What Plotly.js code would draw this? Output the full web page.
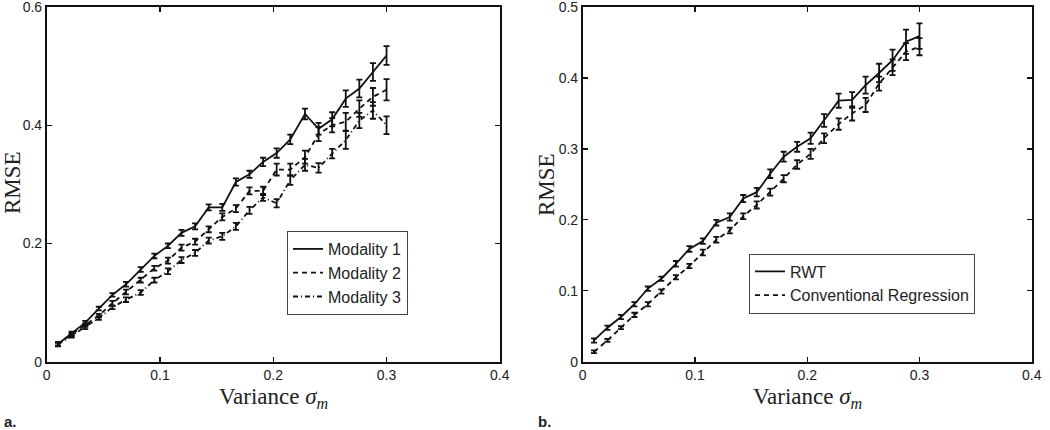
<!DOCTYPE html>
<html>
<head>
<meta charset="utf-8">
<script src="https://cdn.plot.ly/plotly-3.0.1.min.js"></script>
<style>html,body{margin:0;padding:0;background:#fff;}#chart{width:1050px;height:430px;}</style>
</head>
<body>
<div id="chart"></div>
<script>
// Variance sigma_m values (shared x)
const variance = [0.010,0.022,0.034,0.046,0.058,0.070,0.083,0.095,0.107,0.119,0.131,0.143,0.155,0.167,0.179,0.191,0.203,0.215,0.228,0.240,0.252,0.264,0.276,0.288,0.300];

// Panel a
const modality1 = [0.030,0.048,0.066,0.090,0.113,0.131,0.156,0.179,0.196,0.218,0.229,0.261,0.261,0.304,0.317,0.338,0.353,0.376,0.419,0.394,0.410,0.445,0.462,0.490,0.518];
const modality1Err = [0.003,0.003,0.003,0.003,0.003,0.004,0.004,0.004,0.004,0.005,0.005,0.005,0.006,0.006,0.006,0.007,0.008,0.008,0.009,0.010,0.012,0.014,0.015,0.015,0.016];
const modality2 = [0.030,0.046,0.062,0.078,0.099,0.118,0.138,0.158,0.171,0.193,0.203,0.224,0.245,0.259,0.289,0.289,0.325,0.325,0.346,0.385,0.400,0.406,0.428,0.448,0.460];
const modality2Err = [0.003,0.003,0.003,0.003,0.004,0.004,0.004,0.004,0.005,0.005,0.005,0.005,0.006,0.006,0.006,0.007,0.010,0.010,0.011,0.012,0.012,0.015,0.014,0.015,0.018];
const modality3 = [0.029,0.044,0.058,0.074,0.092,0.105,0.117,0.138,0.153,0.172,0.184,0.205,0.212,0.229,0.256,0.278,0.268,0.307,0.333,0.328,0.352,0.375,0.408,0.425,0.400];
const modality3Err = [0.003,0.003,0.003,0.003,0.003,0.004,0.004,0.004,0.005,0.005,0.005,0.005,0.006,0.006,0.006,0.006,0.007,0.008,0.010,0.008,0.008,0.015,0.013,0.014,0.015];

// Panel b
const rwt = [0.030,0.048,0.063,0.081,0.103,0.117,0.138,0.159,0.170,0.196,0.204,0.230,0.239,0.265,0.289,0.303,0.315,0.340,0.368,0.369,0.390,0.407,0.425,0.451,0.459];
const rwtErr = [0.003,0.003,0.003,0.003,0.003,0.003,0.004,0.004,0.004,0.004,0.005,0.005,0.006,0.006,0.007,0.007,0.008,0.009,0.010,0.011,0.012,0.013,0.015,0.017,0.018];
const conventional = [0.014,0.030,0.048,0.066,0.081,0.099,0.119,0.135,0.154,0.172,0.185,0.205,0.221,0.239,0.258,0.278,0.293,0.315,0.335,0.350,0.362,0.392,0.415,0.437,0.444];
const conventionalErr = [0.002,0.002,0.002,0.003,0.003,0.003,0.003,0.003,0.004,0.004,0.004,0.004,0.005,0.005,0.005,0.006,0.007,0.007,0.008,0.010,0.010,0.010,0.011,0.012,0.012];

const xTicks = [0, 0.1, 0.2, 0.3, 0.4];
const yTicksA = [0, 0.2, 0.4, 0.6];
const yTicksB = [0, 0.1, 0.2, 0.3, 0.4, 0.5];

function series(name, y, err, dash, xa, ya, legend) {
  return {
    type: 'scatter', mode: 'lines', name: name, x: variance, y: y,
    xaxis: xa, yaxis: ya, legend: legend,
    line: {color: '#111', width: 1.8, dash: dash},
    error_y: {type: 'data', array: err, visible: true, color: '#111', thickness: 1.8, width: 3}
  };
}

const traces = [
  series('Modality 1', modality1, modality1Err, 'solid', 'x', 'y', 'legend'),
  series('Modality 2', modality2, modality2Err, '5px,4px', 'x', 'y', 'legend'),
  series('Modality 3', modality3, modality3Err, '5px,3px,1px,3px', 'x', 'y', 'legend'),
  series('RWT', rwt, rwtErr, 'solid', 'x2', 'y2', 'legend2'),
  series('Conventional Regression', conventional, conventionalErr, '5px,4px', 'x2', 'y2', 'legend2')
];

const tickFont = {family: 'Liberation Sans, Arial, sans-serif', size: 14, color: '#222'};
function axis(extra) {
  return Object.assign({
    showline: true, linecolor: '#111', linewidth: 1.8, mirror: 'ticks',
    ticks: 'inside', ticklen: 5, tickcolor: '#111', tickwidth: 1.3,
    showgrid: false, zeroline: false, tickfont: tickFont, fixedrange: true,
    ticklabeloverflow: 'allow'
  }, extra);
}

const legendStyle = {
  bgcolor: '#fff', bordercolor: '#444', borderwidth: 1,
  font: {family: 'Liberation Sans, Arial, sans-serif', size: 16, color: '#222'},
  xanchor: 'left', yanchor: 'middle', tracegroupgap: 0
};

const serif = 'Liberation Serif, Times New Roman, serif';
const titleFont = {family: serif, size: 23, color: '#222'};
const labelFont = {family: 'Liberation Sans, Arial, sans-serif', size: 15, color: '#222'};
const layout = {
  width: 1050, height: 430,
  margin: {l: 0, r: 0, t: 0, b: 0},
  paper_bgcolor: '#fff', plot_bgcolor: '#fff',
  showlegend: true,
  xaxis: axis({domain: [0.0445, 0.476], range: [0, 0.4], tickvals: xTicks, anchor: 'y'}),
  yaxis: axis({domain: [0.1588, 0.9837], range: [0, 0.6], tickvals: yTicksA, anchor: 'x'}),
  xaxis2: axis({domain: [0.555, 0.9826], range: [0, 0.4], tickvals: xTicks, anchor: 'y2'}),
  yaxis2: axis({domain: [0.1588, 0.9837], range: [0, 0.5], tickvals: yTicksB, anchor: 'x2'}),
  legend: Object.assign({x: 287/1050, y: 1 - 273/430}, legendStyle),
  legend2: Object.assign({x: 749/1050, y: 1 - 283.5/430}, legendStyle),
  annotations: [
    {text: 'Variance <i>σ<sub>m</sub></i>', xref: 'paper', yref: 'paper', x: 273/1050, y: 1 - 398/430, xanchor: 'center', yanchor: 'middle', showarrow: false, font: titleFont},
    {text: 'Variance <i>σ<sub>m</sub></i>', xref: 'paper', yref: 'paper', x: 807/1050, y: 1 - 398/430, xanchor: 'center', yanchor: 'middle', showarrow: false, font: titleFont},
    {text: 'RMSE', xref: 'paper', yref: 'paper', x: 12/1050, y: 1 - 183/430, xanchor: 'center', yanchor: 'middle', textangle: -90, showarrow: false, font: titleFont},
    {text: 'RMSE', xref: 'paper', yref: 'paper', x: 546/1050, y: 1 - 185/430, xanchor: 'center', yanchor: 'middle', textangle: -90, showarrow: false, font: titleFont},
    {text: '<b>a.</b>', xref: 'paper', yref: 'paper', x: 2/1050, y: 1 - 421/430, xanchor: 'left', yanchor: 'middle', showarrow: false, font: labelFont},
    {text: '<b>b.</b>', xref: 'paper', yref: 'paper', x: 536/1050, y: 1 - 421/430, xanchor: 'left', yanchor: 'middle', showarrow: false, font: labelFont}
  ]
};

Plotly.newPlot('chart', traces, layout, {staticPlot: true, displayModeBar: false});
</script>
</body>
</html>
